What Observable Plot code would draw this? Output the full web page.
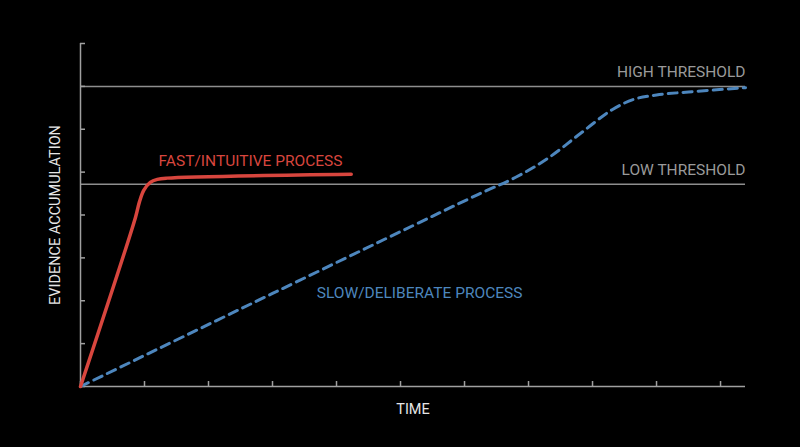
<!DOCTYPE html>
<html>
<head>
<meta charset="utf-8">
<script src="https://cdn.jsdelivr.net/npm/d3@7"></script>
<script src="https://cdn.jsdelivr.net/npm/@observablehq/plot@0.6"></script>
<style>
  html, body { margin: 0; padding: 0; background: #000; }
  #chart svg { display: block; }
</style>
</head>
<body>
<div id="chart"></div>
<script>
// Time units (x) and evidence units (y)
const xTicks = [0, 1, 2, 3, 4, 5, 6, 7, 8, 9, 10];
const yTicks = [0, 1, 2, 3, 4, 5, 6, 7, 8];
const xMax = 10.39;

const thresholdValues = [7, 4.72];
const thresholdLabels = ["HIGH THRESHOLD", "LOW THRESHOLD"];

const fastTime =     [0, 0.86, 0.92, 0.99, 1.09, 1.2, 1.35, 4.23];
const fastEvidence = [0, 3.95, 4.3, 4.58, 4.76, 4.83, 4.86, 4.95];

const slowTime =     [0, 3, 6.2, 6.8, 7.3, 7.81, 8.3, 8.65, 9.0, 9.5, 10.39];
const slowEvidence = [0, 2.17, 4.47, 4.88, 5.32, 5.9, 6.45, 6.7, 6.8, 6.87, 6.97];

const processLabels = ["FAST/INTUITIVE PROCESS", "SLOW/DELIBERATE PROCESS"];
const processLabelX = [1.22, 3.69];
const processLabelY = [5.25, 2.17];

const fast = fastTime.map((t, i) => ({t, e: fastEvidence[i]}));
const slow = slowTime.map((t, i) => ({t, e: slowEvidence[i]}));
const thresholds = thresholdValues.map((v, i) => ({v, label: thresholdLabels[i]}));
const procLabels = processLabels.map((s, i) => ({s, x: processLabelX[i], y: processLabelY[i]}));

const RED = "#d8463e";
const BLUE = "#4d86bd";
const GRAY = "#8e8e8e";
const FONT = "Roboto, 'DejaVu Sans', sans-serif";

const chart = Plot.plot({
  width: 800,
  height: 447,
  marginLeft: 80,
  marginRight: 55,
  marginTop: 43,
  marginBottom: 61,
  style: {background: "#000", color: "#999", fontFamily: FONT},
  x: {domain: [0, xMax]},
  y: {domain: [0, 8]},
  marks: [
    Plot.ruleY(thresholds, {y: "v", x1: 0, x2: xMax, stroke: GRAY, strokeWidth: 1.5}),
    Plot.text(thresholds, {y: "v", x: xMax, text: "label", textAnchor: "end", dy: -14,
      fill: "#9a9a9a", fontSize: 15.5}),
    Plot.ruleX([0], {y1: 0, y2: 8, stroke: "#a0a0a0", strokeWidth: 1.5}),
    Plot.ruleY([0], {x1: 0, x2: xMax, stroke: "#a0a0a0", strokeWidth: 1.5}),
    Plot.axisX({ticks: xTicks, tickSize: -5, tickFormat: () => "", label: null, stroke: "#a0a0a0", strokeWidth: 1.5}),
    Plot.axisY({ticks: yTicks, tickSize: -5, tickFormat: () => "", label: null, stroke: "#a0a0a0", strokeWidth: 1.5}),
    Plot.line(slow, {x: "t", y: "e", stroke: BLUE, strokeWidth: 3, strokeDasharray: "9,6", curve: "catmull-rom"}),
    Plot.line(fast, {x: "t", y: "e", stroke: RED, strokeWidth: 3.5, curve: "catmull-rom"}),
    Plot.text(procLabels.slice(0, 1), {x: "x", y: "y", text: "s", textAnchor: "start", fill: RED, fontSize: 15.5}),
    Plot.text(procLabels.slice(1), {x: "x", y: "y", text: "s", textAnchor: "start", fill: BLUE, fontSize: 15.5}),
    Plot.text(["EVIDENCE ACCUMULATION"], {frameAnchor: "left", textAnchor: "middle", rotate: -90, dx: -25, fill: "#e6e6e6", fontSize: 14.5}),
    Plot.text(["TIME"], {frameAnchor: "bottom", dy: 27, fill: "#e6e6e6", fontSize: 14.5})
  ]
});
document.getElementById("chart").appendChild(chart);
</script>
</body>
</html>
